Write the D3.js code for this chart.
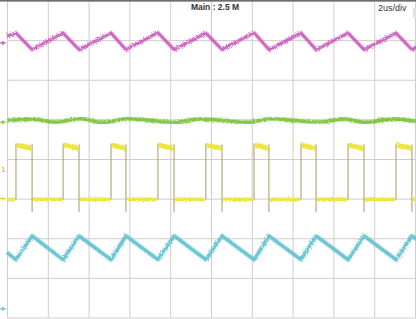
<!DOCTYPE html>
<html>
<head>
<meta charset="utf-8">
<script src="https://cdn.jsdelivr.net/npm/d3@7"></script>
<style>
  html, body { margin: 0; padding: 0; background: #fff; }
  svg { display: block; }
</style>
</head>
<body>
<svg id="scope" width="416" height="319"></svg>
<script>
// time axis in us (2 us/div, 10 div), vertical in divisions (8 div)
const timeTicks = [0, 2, 4, 6, 8, 10, 12, 14, 16, 18, 20];
const divTicks = [-4, -3, -2, -1, 0, 1, 2, 3, 4];

// switching edges (us)
const riseTimes = [0.44, 2.75, 5.10, 7.40, 9.75, 12.11, 14.41, 16.72, 19.07];
const fallTimes = [1.23, 3.53, 5.83, 8.19, 10.54, 12.84, 15.15, 17.50, 19.85];

// magenta trace (output ripple), vertices
const pinkT = [0, 0.44, 1.23, 2.75, 3.53, 5.10, 5.83, 7.40, 8.19, 9.75, 10.54, 12.11, 12.84, 14.41, 15.15, 16.72, 17.50, 19.07, 19.85, 20.1];
const pinkV = [3.10, 3.18, 2.76, 3.18, 2.76, 3.18, 2.76, 3.19, 2.76, 3.18, 2.76, 3.19, 2.76, 3.18, 2.76, 3.18, 2.76, 3.18, 2.76, 2.82];

// cyan trace (inductor current), vertices
const cyanT = [0, 0.44, 1.23, 2.75, 3.53, 5.10, 5.83, 7.40, 8.19, 9.75, 10.54, 12.11, 12.84, 14.41, 15.15, 16.72, 17.50, 19.07, 19.85, 20.1];
const cyanV = [-2.36, -2.54, -1.94, -2.54, -1.94, -2.54, -1.94, -2.54, -1.94, -2.54, -1.94, -2.54, -1.94, -2.54, -1.94, -2.54, -1.94, -2.54, -1.94, -2.03];

// green trace (input), nearly flat with slight ripple
const greenT = [0, 1.2, 2.4, 3.6, 4.7, 5.9, 7.1, 8.2, 9.4, 10.6, 11.8, 12.9, 14.1, 15.3, 16.5, 17.6, 18.8, 20.1];
const greenV = [0.97, 1.01, 0.93, 1.02, 0.92, 1.02, 0.97, 0.92, 1.01, 0.97, 0.92, 1.02, 0.97, 0.93, 1.01, 0.92, 1.01, 0.95];

// yellow trace (switch node) levels
const yellowHigh = 0.29;
const yellowLow = -1.02;

const channelMarks = [
    { v: 2.93, color: '#c85ab8' },
    { v: 0.93, color: '#7cc23c' },
    { v: -1.0, color: '#e2d83a' },
    { v: -3.78, color: '#62bfd0' },
];

const svg = d3.select('#scope');
const x = d3.scaleLinear().domain([0, 20]).range([7, 415]);
const y = d3.scaleLinear().domain([-4, 4]).range([317.5, 0.5]);

const defs = svg.append('defs');
const fuzz = defs.append('filter').attr('id', 'fuzz')
    .attr('x', '-5%').attr('y', '-30%').attr('width', '110%').attr('height', '160%');
fuzz.append('feTurbulence').attr('type', 'fractalNoise')
    .attr('baseFrequency', 1.2).attr('numOctaves', 2).attr('result', 'n');
fuzz.append('feDisplacementMap').attr('in', 'SourceGraphic').attr('in2', 'n')
    .attr('scale', 3.5);

// grid
const grid = svg.append('g').attr('class', 'grid');
grid.append('g')
    .attr('transform', `translate(0,${y(-4)})`)
    .call(d3.axisBottom(x).tickValues(timeTicks).tickSize(-(y(-4) - y(4))).tickFormat(''))
    .call(g => g.select('.domain').remove());
grid.append('g')
    .attr('transform', `translate(${x(0)},0)`)
    .call(d3.axisLeft(y).tickValues(divTicks).tickSize(-(x(20) - x(0)) - 10).tickFormat(''))
    .call(g => g.select('.domain').remove());
grid.selectAll('line').attr('stroke', '#d3cccc').attr('stroke-width', 1);

// top frame
svg.append('rect').attr('x', 0).attr('y', 0).attr('width', 416).attr('height', 1.6).attr('fill', '#6e6e6e');

const line = d3.line().x(d => x(d[0])).y(d => y(d[1]));

function drawTrace(ts, vs, color, width, curve) {
    const pts = ts.map((t, i) => [t, vs[i]]);
    const l = curve ? d3.line().x(d => x(d[0])).y(d => y(d[1])).curve(curve) : line;
    const g = svg.append('g').attr('filter', 'url(#fuzz)');
    g.append('path').attr('d', l(pts)).attr('fill', 'none')
        .attr('stroke', color).attr('stroke-width', width + 2).attr('stroke-opacity', 0.3)
        .attr('stroke-linejoin', 'round');
    g.append('path').attr('d', l(pts)).attr('fill', 'none')
        .attr('stroke', color).attr('stroke-width', width).attr('stroke-opacity', 0.92)
        .attr('stroke-linejoin', 'round');
}

drawTrace(pinkT, pinkV, '#cc5ec0', 2.8);
drawTrace(greenT, greenV, '#7cc53c', 3.4, d3.curveMonotoneX);
drawTrace(cyanT, cyanV, '#66c3d2', 3.2);

// yellow square wave: thick levels, thin edges
const lowSegs = [[0, riseTimes[0]]];
const highSegs = [];
riseTimes.forEach((tr, i) => {
    const tf = fallTimes[i];
    highSegs.push([tr, tf]);
    lowSegs.push([tf, i + 1 < riseTimes.length ? riseTimes[i + 1] : 20.1]);
});

const yg = svg.append('g');
yg.selectAll('line.edge-r').data(riseTimes).join('line').attr('class', 'edge-r')
    .attr('x1', d => x(d)).attr('x2', d => x(d))
    .attr('y1', y(yellowLow)).attr('y2', y(yellowHigh + 0.1))
    .attr('stroke', '#a39a60').attr('stroke-width', 1);
yg.selectAll('line.edge-f').data(fallTimes).join('line').attr('class', 'edge-f')
    .attr('x1', d => x(d)).attr('x2', d => x(d))
    .attr('y1', y(yellowHigh + 0.08)).attr('y2', y(yellowLow - 0.32))
    .attr('stroke', '#a39a60').attr('stroke-width', 1);

const yf = svg.append('g').attr('filter', 'url(#fuzz)');
yf.selectAll('path.high').data(highSegs).join('path').attr('class', 'high')
    .attr('d', d => line([[d[0] + 0.03, yellowHigh + 0.06], [d[0] + 0.2, yellowHigh + 0.04], [d[1] - 0.03, yellowHigh - 0.02]]))
    .attr('fill', 'none').attr('stroke', '#ede63f').attr('stroke-width', 5);
yf.selectAll('path.low').data(lowSegs).join('path').attr('class', 'low')
    .attr('d', d => line([[d[0] + 0.05, yellowLow], [d[1] - 0.05, yellowLow]]))
    .attr('fill', 'none').attr('stroke', '#ede63f').attr('stroke-width', 3.6);

// channel ground markers on the left edge
const marks = svg.append('g');
channelMarks.forEach(m => {
    marks.append('path')
        .attr('d', `M0,${y(m.v)} L6,${y(m.v)} M3,${y(m.v) - 2} L3,${y(m.v) + 2}`)
        .attr('stroke', m.color).attr('stroke-width', 1.3).attr('fill', 'none');
});
marks.append('text').attr('x', 1).attr('y', y(-0.33))
    .attr('font-family', 'Liberation Sans Narrow, Liberation Sans, sans-serif')
    .attr('font-size', 8).attr('font-weight', 'bold').attr('fill', '#d6cc30').text('1');

// labels
svg.append('text').attr('x', 215).attr('y', 9.5).attr('text-anchor', 'middle')
    .attr('font-family', 'Liberation Sans Narrow, Liberation Sans, sans-serif')
    .attr('font-size', 8.5).attr('font-weight', 'bold').attr('fill', '#333')
    .text('Main : 2.5 M');
svg.append('text').attr('x', 378).attr('y', 10.5)
    .attr('font-family', 'Liberation Sans Narrow, Liberation Sans, sans-serif')
    .attr('font-size', 9).attr('fill', '#333')
    .text('2us/div');
svg.append('rect').attr('x', 413).attr('y', 8).attr('width', 3).attr('height', 10).attr('fill', '#e2e2e2');
</script>
</body>
</html>
